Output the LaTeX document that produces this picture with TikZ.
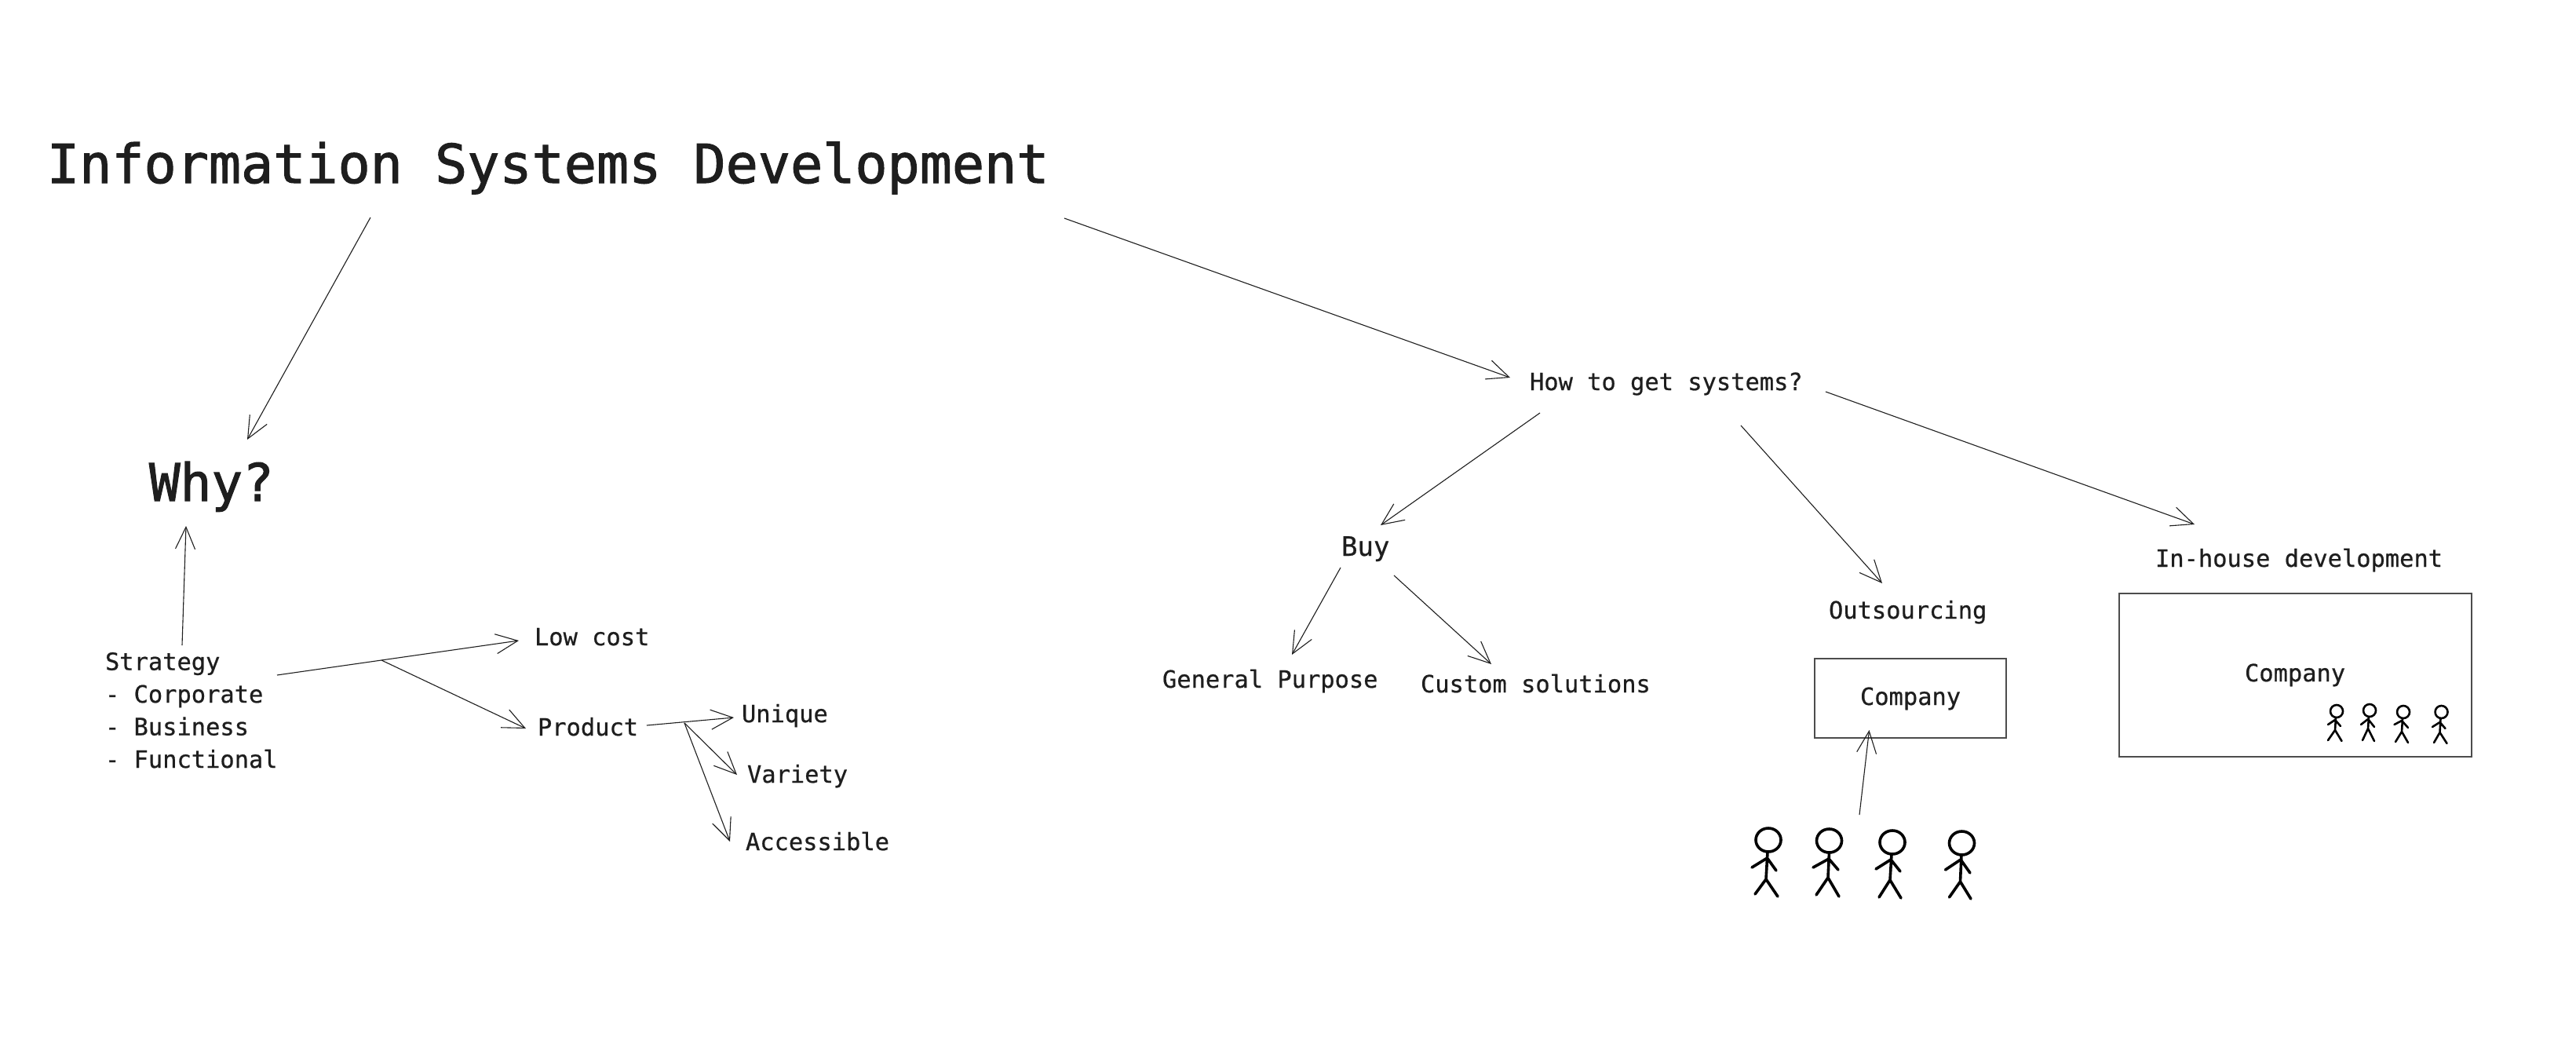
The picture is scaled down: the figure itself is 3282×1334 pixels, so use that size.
\documentclass[tikz,border=0pt]{standalone}
\usepackage{fontspec}
\setmainfont[FakeBold=0.6]{DejaVu Sans Mono}
\newfontfamily\headfont[FakeBold=1.6]{DejaVu Sans Mono}
\usetikzlibrary{arrows.meta}
\definecolor{ink}{HTML}{1E1E1E}
\tikzset{
  txt/.style={anchor=base west,inner sep=0pt,outer sep=0pt,text=ink,font=\fontsize{30.4}{41.5}\selectfont},
  bigtxt/.style={txt,font=\headfont\fontsize{68.4}{80}\selectfont},
  whytxt/.style={txt,font=\headfont\fontsize{66}{70}\selectfont},
  buytxt/.style={txt,font=\fontsize{34}{40}\selectfont},
  arr/.style={draw=ink,line width=1.1pt,-{Straight Barb[length=28pt,width=25pt,line width=1.1pt]}},
  boxline/.style={draw=black!70,line width=1.6pt},
  bigman/.style={draw=black,line width=3.6pt,line cap=round,line join=round},
  smallman/.style={draw=black,line width=2.6pt,line cap=round,line join=round}
}
\begin{document}
\begin{tikzpicture}[x=1pt,y=-1pt]
\path[fill=white] (0,0) rectangle (3282,1334);
\useasboundingbox (0,0) rectangle (3282,1334);
% texts
\node[bigtxt] (title) at (60,233) {Information Systems Development};
\node[whytxt] (why) at (190,638) {Why?};
\node[txt,anchor=north west,align=left] (strategy) at (134,831) {Strategy\\- Corporate\\- Business\\- Functional};
\node[txt] (lowcost) at (681,822) {Low cost};
\node[txt] (product) at (685,937) {Product};
\node[txt] (unique) at (945,920) {Unique};
\node[txt] (variety) at (952,997) {Variety};
\node[txt] (accessible) at (950,1083) {Accessible};
\node[txt] (how) at (1949,497) {How to get systems?};
\node[buytxt] (buy) at (1709,708) {Buy};
\node[txt] (general) at (1481,876) {General Purpose};
\node[txt] (custom) at (1810,882) {Custom solutions};
\node[txt] (outsourcing) at (2330,788) {Outsourcing};
\node[txt] (inhouse) at (2746,722) {In-house development};
\node[txt] (companyA) at (2370,898) {Company};
\node[txt] (companyB) at (2860,868) {Company};
% boxes
\draw[boxline] (2312,839) rectangle (2556,940);
\draw[boxline] (2700,756) rectangle (3149,964);
% connector ends
\coordinate (titleL) at (472,277);   \coordinate (whyTop) at (315,560);
\coordinate (titleR) at (1356,278);  \coordinate (howIn) at (1924,481);
\coordinate (howBuy) at (1962,526);  \coordinate (buyTop) at (1759,669);
\coordinate (howOut) at (2218,542);  \coordinate (outTop) at (2398,743);
\coordinate (howIn2) at (2326,499);  \coordinate (inTop) at (2796,668);
\coordinate (buyL) at (1708,723);    \coordinate (genTop) at (1646,834);
\coordinate (buyR) at (1776,733);    \coordinate (cusTop) at (1900,846);
\coordinate (stratTop) at (232,822); \coordinate (whyBot) at (237,670);
\coordinate (stratR) at (353,860);   \coordinate (lowIn) at (661,816);
\coordinate (branchA) at (486,841);  \coordinate (prodIn) at (670,928);
\coordinate (prodR) at (824,924);    \coordinate (uniIn) at (935,914);
\coordinate (branchB) at (872,921);  \coordinate (varIn) at (939,987);
\coordinate (accIn) at (930,1072);
\coordinate (peopleTop) at (2369,1038); \coordinate (compBot) at (2381.5,930);
% connectors
\draw[arr] (titleL) -- (whyTop);
\draw[arr] (titleR) -- (howIn);
\draw[arr] (howBuy) -- (buyTop);
\draw[arr] (howOut) -- (outTop);
\draw[arr] (howIn2) -- (inTop);
\draw[arr] (buyL) -- (genTop);
\draw[arr] (buyR) -- (cusTop);
\draw[arr] (stratTop) -- (whyBot);
\draw[arr] (stratR) -- (lowIn);
\draw[arr] (branchA) -- (prodIn);
\draw[arr] (prodR) -- (uniIn);
\draw[arr] (branchB) -- (varIn);
\draw[arr] (branchB) -- (accIn);
\draw[arr] (peopleTop) -- (compBot);
% large people
\draw[bigman] (2253,1070) ellipse (16 and 15);
\draw[bigman] (2252,1085) -- (2250,1120) (2232,1105) -- (2251.5,1093) -- (2263,1109) (2236,1139) -- (2250,1120) -- (2265,1142);
\draw[bigman] (2330.5,1071) ellipse (16 and 15);
\draw[bigman] (2330.5,1086) -- (2329,1118) (2310,1105) -- (2330,1094) -- (2342,1108) (2314,1140) -- (2329,1118) -- (2343,1142);
\draw[bigman] (2411,1073) ellipse (16 and 15);
\draw[bigman] (2410,1088) -- (2408,1121) (2390,1107) -- (2409,1095) -- (2421,1110) (2394,1143) -- (2408,1121) -- (2422,1144);
\draw[bigman] (2499.5,1074) ellipse (16 and 15);
\draw[bigman] (2499,1089) -- (2497.5,1123) (2478.5,1108) -- (2498,1095) -- (2510,1112) (2483.5,1143) -- (2497.5,1123) -- (2511,1145);
% small people
\draw[smallman] (2977,906) ellipse (8 and 8);
\draw[smallman] (2976,914) -- (2975,930) (2966,923) -- (2975,917) -- (2982,925) (2966,943) -- (2975,930) -- (2983.5,944);
\draw[smallman] (3019,905) ellipse (8 and 8);
\draw[smallman] (3018,913) -- (3017,928) (3008,923) -- (3017,916) -- (3025,926) (3010,943) -- (3017,928) -- (3025,944);
\draw[smallman] (3062,907) ellipse (8 and 8);
\draw[smallman] (3061,915) -- (3060,932) (3050.5,923) -- (3060,918) -- (3068,927) (3052,945) -- (3060,932) -- (3068,946);
\draw[smallman] (3110.5,907) ellipse (8 and 8);
\draw[smallman] (3109.5,915) -- (3108.5,933) (3099,926) -- (3108.5,920) -- (3115.5,928) (3101,946) -- (3108.5,933) -- (3117.5,947);
\end{tikzpicture}
\end{document}
